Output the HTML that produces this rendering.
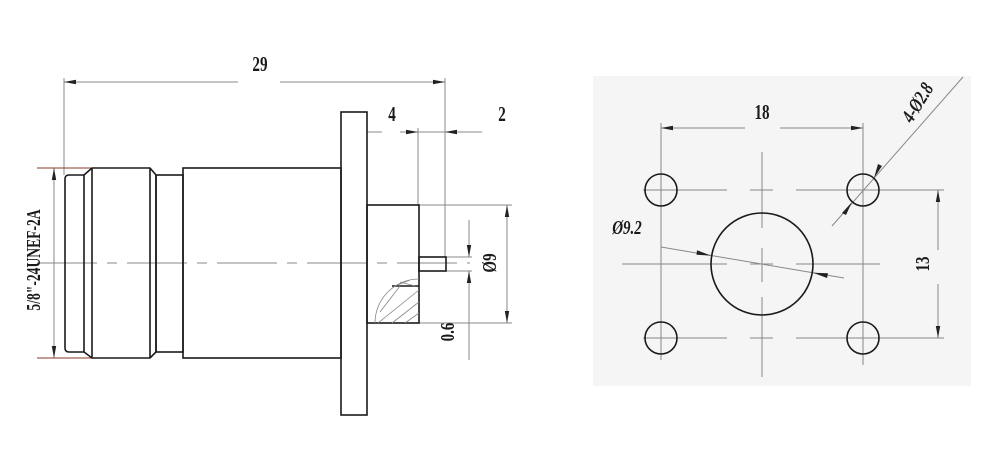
<!DOCTYPE html>
<html><head><meta charset="utf-8"><style>
html,body{margin:0;padding:0;background:#fff;}
svg{display:block;}
text{font-family:"Liberation Serif",serif;fill:#1a1a1a;font-weight:bold;}
</style></head><body>
<svg width="1000" height="458" viewBox="0 0 1000 458" xmlns="http://www.w3.org/2000/svg">
<defs>
<marker id="a" viewBox="0 0 12 6" refX="12" refY="3" markerWidth="12" markerHeight="6" orient="auto-start-reverse" markerUnits="userSpaceOnUse"><path d="M0,0.8 L12,3 L0,5.2 Z" fill="#222"/></marker>
</defs>
<rect x="593" y="76" width="378" height="310" fill="#f5f5f5"/>

<g stroke="#888" stroke-width="1" fill="none">
  <line x1="64" y1="78" x2="64" y2="175"/>
  <line x1="445" y1="78" x2="445" y2="257"/>
  <line x1="64" y1="82" x2="238" y2="82" marker-start="url(#a)"/>
  <line x1="280" y1="82" x2="445" y2="82" marker-end="url(#a)"/>
  <line x1="418" y1="128" x2="418" y2="205"/>
  <line x1="367" y1="132" x2="382" y2="132"/>
  <line x1="400" y1="132" x2="418" y2="132" marker-end="url(#a)"/>
  <line x1="418" y1="132" x2="445" y2="132"/>
  <line x1="482" y1="132" x2="445" y2="132" marker-end="url(#a)"/>
  <line x1="37" y1="263" x2="470" y2="263" stroke-dasharray="60,10,10,10"/>
  <line x1="419" y1="205" x2="512" y2="205"/>
  <line x1="419" y1="323" x2="512" y2="323"/>
  <line x1="507" y1="205" x2="507" y2="323" marker-start="url(#a)" marker-end="url(#a)"/>
  <line x1="446" y1="257" x2="472" y2="257"/>
  <line x1="446" y1="271" x2="472" y2="271"/>
  <line x1="469" y1="220" x2="469" y2="257" marker-end="url(#a)"/>
  <line x1="469" y1="360" x2="469" y2="271" marker-end="url(#a)"/>
  <line x1="54" y1="168" x2="54" y2="358" marker-start="url(#a)" marker-end="url(#a)"/>
</g>
<g stroke="#8a3a2a" stroke-width="1">
  <line x1="37" y1="168" x2="92" y2="168"/>
  <line x1="37" y1="358" x2="92" y2="358"/>
</g>

<g stroke="#1a1a1a" stroke-width="1.6" fill="none">
  <path d="M84,175 L69,175 Q65,175 65,179 L65,348 Q65,352 69,352 L84,352"/>
  <path d="M84,175 L92,168 L150,168 L156,175 L156,352 L150,358 L92,358 L84,352 Z"/>
  <line x1="92" y1="168" x2="92" y2="358"/>
  <line x1="150" y1="168" x2="150" y2="358"/>
  <rect x="156" y="175" width="27" height="177"/>
  <rect x="183" y="168" width="158" height="190"/>
  <rect x="341" y="112" width="26" height="303"/>
  <rect x="367" y="205" width="52" height="118"/>
  <rect x="419" y="257" width="27" height="14"/>
  <line x1="392" y1="286" x2="419" y2="286"/>
</g>
<g stroke="#888" stroke-width="0.8" fill="none">
  <path d="M375,323 A44,44 0 0 1 419,279"/>
  <line x1="378" y1="323" x2="419" y2="290"/>
  <line x1="392" y1="323" x2="419" y2="302"/>
  <line x1="405" y1="323" x2="419" y2="313"/>
  <line x1="380" y1="312" x2="400" y2="286"/>
  <line x1="395" y1="286" x2="410" y2="280"/>
  <line x1="400" y1="282" x2="415" y2="286"/>
</g>

<text x="260" y="71" font-size="21" text-anchor="middle" transform="translate(260,0) scale(0.72,1) translate(-260,0)">29</text>
<text x="392" y="121" font-size="21" text-anchor="middle" transform="translate(392,0) scale(0.72,1) translate(-392,0)">4</text>
<text x="502" y="121" font-size="21" text-anchor="middle" transform="translate(502,0) scale(0.72,1) translate(-502,0)">2</text>
<text font-size="20" text-anchor="middle" transform="translate(496,263) rotate(-90) scale(0.75,1)">Ø9</text>
<text font-size="20" text-anchor="middle" transform="translate(454,332) rotate(-90) scale(0.75,1)">0.6</text>
<text font-size="20" text-anchor="middle" transform="translate(40,260) rotate(-90) scale(0.68,1)">5/8"-24UNEF-2A</text>

<g stroke="#888" stroke-width="1" fill="none">
  <line x1="661" y1="123" x2="661" y2="360"/>
  <line x1="863" y1="123" x2="863" y2="365"/>
  <line x1="661" y1="128" x2="745" y2="128" marker-start="url(#a)"/>
  <line x1="780" y1="128" x2="863" y2="128" marker-end="url(#a)"/>
  <line x1="643" y1="190" x2="727" y2="190"/><line x1="750" y1="190" x2="773" y2="190"/><line x1="796" y1="190" x2="944" y2="190"/>
  <line x1="643" y1="338" x2="727" y2="338"/><line x1="750" y1="338" x2="773" y2="338"/><line x1="796" y1="338" x2="944" y2="338"/>
  <line x1="622" y1="264" x2="727" y2="264"/><line x1="750" y1="264" x2="773" y2="264"/><line x1="796" y1="264" x2="880" y2="264"/>
  <line x1="762" y1="152" x2="762" y2="228"/><line x1="762" y1="248" x2="762" y2="282"/><line x1="762" y1="297" x2="762" y2="377"/>
  <line x1="938" y1="190" x2="938" y2="250" marker-start="url(#a)"/>
  <line x1="938" y1="284" x2="938" y2="338" marker-end="url(#a)"/>
  <line x1="661" y1="247" x2="844" y2="278"/>
  <line x1="832" y1="226" x2="963" y2="77"/>
</g>
<g stroke="#1a1a1a" stroke-width="1.6" fill="none">
  <circle cx="661" cy="190" r="16"/><circle cx="863" cy="190" r="16"/>
  <circle cx="661" cy="338" r="16"/><circle cx="863" cy="338" r="16"/>
  <circle cx="762" cy="264" r="51"/>
</g>
<g fill="#222">
  <path d="M711,255.6 L697,250.2 L696.5,254.8 Z"/>
  <path d="M813,272.7 L827,278 L828,273.3 Z"/>
  <path d="M874,178 L882,166 L878,164 Z"/>
  <path d="M852,202 L842,213 L846,215 Z"/>
</g>
<text x="762" y="119" font-size="21" text-anchor="middle" transform="translate(762,0) scale(0.72,1) translate(-762,0)">18</text>
<text font-size="20" text-anchor="middle" transform="translate(929,264) rotate(-90) scale(0.75,1)">13</text>
<text x="627" y="234" font-size="20" font-style="italic" text-anchor="middle" transform="translate(627,0) scale(0.75,1) translate(-627,0)">Ø9.2</text>
<text font-size="20" font-style="italic" text-anchor="middle" transform="translate(923,106) rotate(-58) scale(0.75,1)">4-Ø2.8</text>
</svg>
</body></html>
